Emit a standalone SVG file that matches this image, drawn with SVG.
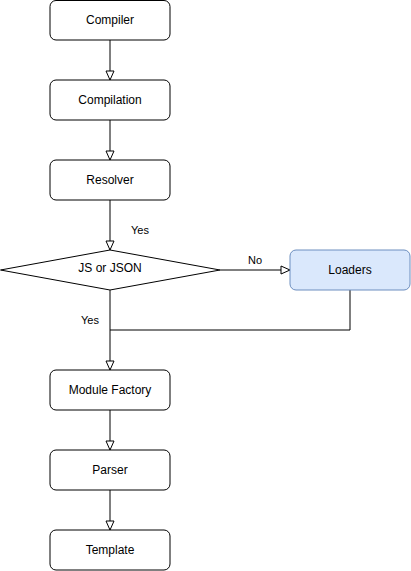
<svg xmlns="http://www.w3.org/2000/svg" width="411" height="571" viewBox="0 0 411 571">
<defs>
<style>
.box{fill:#ffffff;stroke:#000000;stroke-width:1}
.blue{fill:#dae8fc;stroke:#6c8ebf;stroke-width:1}
.t{font-family:"Liberation Sans",Arial,sans-serif;font-size:12px;fill:#000;text-anchor:middle;dominant-baseline:central}
.l{font-family:"Liberation Sans",Arial,sans-serif;font-size:11px;fill:#000;text-anchor:middle;dominant-baseline:central}
.c{fill:none;stroke:#000;stroke-width:1}
</style>
<marker id="arr" viewBox="0 0 10 10" refX="10" refY="5" markerWidth="10" markerHeight="10" markerUnits="userSpaceOnUse" orient="auto">
<path d="M1,1 L10,5 L1,9 Z" fill="#fff" stroke="#000" stroke-width="1"/>
</marker>
</defs>
<rect width="411" height="571" fill="#ffffff"/>
<g id="connectors">
<path class="c" d="M110,40 V80" marker-end="url(#arr)"/>
<path class="c" d="M110,120 V160" marker-end="url(#arr)"/>
<path class="c" d="M110,200 V250" marker-end="url(#arr)"/>
<path class="c" d="M220,270 H290" marker-end="url(#arr)"/>
<path class="c" d="M110,290 V370" marker-end="url(#arr)"/>
<path class="c" d="M350,290 V330 H110"/>
<path class="c" d="M110,410 V450" marker-end="url(#arr)"/>
<path class="c" d="M110,490 V530" marker-end="url(#arr)"/>
<text class="l" x="140" y="230">Yes</text>
<text class="l" x="255" y="260">No</text>
<text class="l" x="90" y="320">Yes</text>
</g>
<g id="compiler"><rect class="box" x="50" y="0.5" width="120" height="39.5" rx="6"/><text class="t" x="110" y="20">Compiler</text></g>
<g id="compilation"><rect class="box" x="50" y="80" width="120" height="40" rx="6"/><text class="t" x="110" y="100">Compilation</text></g>
<g id="resolver"><rect class="box" x="50" y="160" width="120" height="40" rx="6"/><text class="t" x="110" y="180">Resolver</text></g>
<g id="decision"><path class="box" d="M110,250 L220,270 L110,290 L0.5,270 Z"/><text class="t" x="110" y="268">JS or JSON</text></g>
<g id="loaders"><rect class="blue" x="290" y="250" width="120" height="40" rx="6"/><text class="t" x="350" y="270">Loaders</text></g>
<g id="moduleFactory"><rect class="box" x="50" y="370" width="120" height="40" rx="6"/><text class="t" x="110" y="390">Module Factory</text></g>
<g id="parser"><rect class="box" x="50" y="450" width="120" height="40" rx="6"/><text class="t" x="110" y="470">Parser</text></g>
<g id="template"><rect class="box" x="50" y="530" width="120" height="40" rx="6"/><text class="t" x="110" y="550">Template</text></g>
</svg>
